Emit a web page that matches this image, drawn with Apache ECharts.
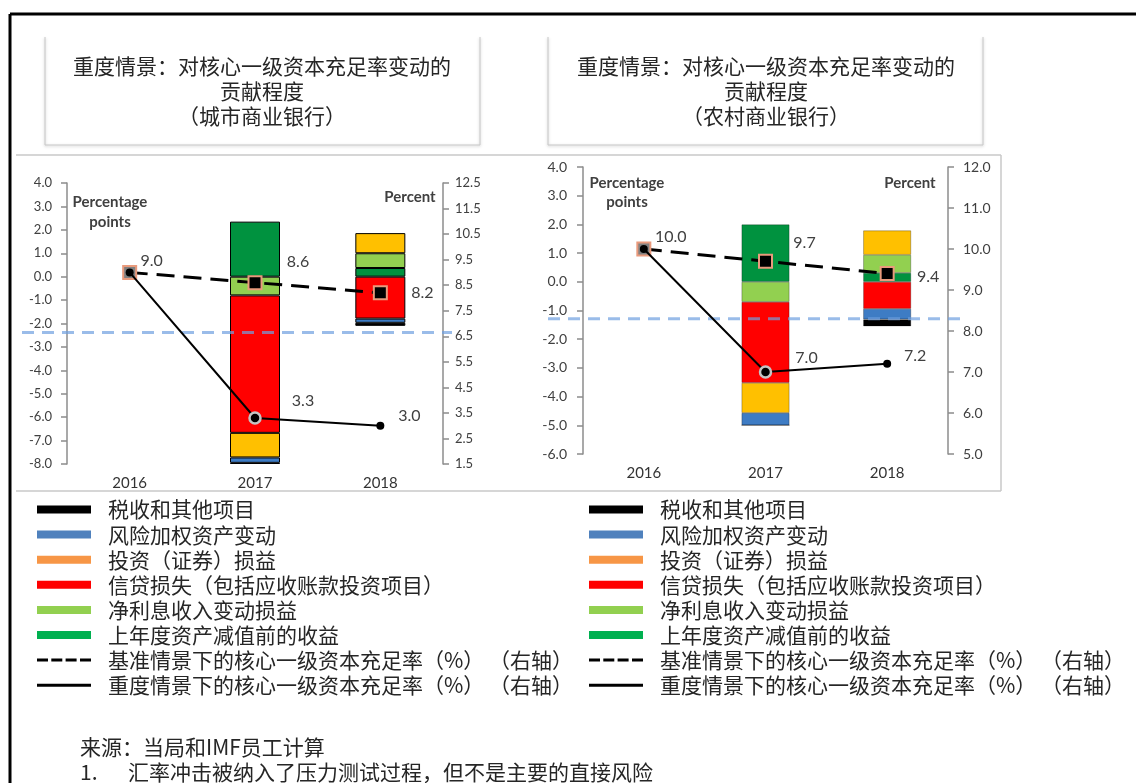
<!DOCTYPE html>
<html>
<head>
<meta charset="utf-8">
<script src="https://cdn.jsdelivr.net/npm/echarts@6/dist/echarts.min.js"></script>
<style>
  html, body { margin: 0; padding: 0; background: #fff; }
  #main { width: 1136px; height: 783px; }
</style>
</head>
<body>
<div id="main"></div>
<script>
/* 两张重度情景贡献图：城市商业银行（左）、农村商业银行（右） */
var years = ['2016', '2017', '2018'];

var seriesNames = [
    '上年度资产减值前的收益',
    '净利息收入变动损益',
    '信贷损失（包括应收账款投资项目）',
    '投资（证券）损益',
    '风险加权资产变动',
    '税收和其他项目'
];
var baseName = '基准情景下的核心一级资本充足率（%） （右轴）';
var severeName = '重度情景下的核心一级资本充足率（%） （右轴）';
// 图例顺序（从上到下）
var legendOrder = ['税收和其他项目', '风险加权资产变动', '投资（证券）损益',
    '信贷损失（包括应收账款投资项目）', '净利息收入变动损益', '上年度资产减值前的收益',
    baseName, severeName];

// 城市商业银行，百分点
var cityPreImpairment = [null, 2.35, 0.37];
var cityNetInterest = [null, -0.8, 0.63];
var cityCredit = [null, -5.87, -1.79];
var cityInvestment = [null, -1.05, 0.86];
var cityRwa = [null, -0.23, -0.18];
var cityTax = [null, -0.05, -0.13];
var cityBaseline = [9.0, 8.6, 8.2];   // 右轴，百分比
var citySevere = [9.0, 3.3, 3.0];
var cityThreshold = 6.65;

// 农村商业银行，百分点
var ruralPreImpairment = [null, 2.0, 0.31];
var ruralNetInterest = [null, -0.7, 0.63];
var ruralCredit = [null, -2.82, -0.94];
var ruralInvestment = [null, -1.05, 0.85];
var ruralRwa = [null, -0.43, -0.37];
var ruralTax = [null, 0, -0.24];
var ruralBaseline = [10.0, 9.7, 9.4];
var ruralSevere = [10.0, 7.0, 7.2];
var ruralThreshold = 8.3;

// 坐标轴范围 [min, max, interval]
var cityPpAxis = [-8, 4, 1];
var cityPctAxis = [1.5, 12.5, 1];
var ruralPpAxis = [-6, 4, 1];
var ruralPctAxis = [5, 12, 1];

var barColors = ['#00923F', '#92D050', '#FF0000', '#FFC000', '#3E7CC4', '#000000'];
var legendColors = {
    '税收和其他项目': '#000000',
    '风险加权资产变动': '#4F81BD',
    '投资（证券）损益': '#F79646',
    '信贷损失（包括应收账款投资项目）': '#FF0000',
    '净利息收入变动损益': '#92D050',
    '上年度资产减值前的收益': '#00B050'
};

var font = 'Lato, "Noto Sans", sans-serif';
var cjk = '"Noto Sans CJK SC", sans-serif';
var axisGray = '#8c8c8c';

function makeBars(groups, xi, yi, width, border) {
    return groups.map(function (vals, k) {
        return {
            type: 'bar', name: seriesNames[k], stack: 'c' + xi,
            xAxisIndex: xi, yAxisIndex: yi, barWidth: width,
            itemStyle: { color: barColors[k], borderColor: border.c, borderWidth: border.w },
            data: vals
        };
    });
}

function makeLines(base, severe, xi, yi, baseOff, sevOff) {
    var lab = function (off) {
        return off ? { show: true, position: 'inside', offset: off, color: '#404040', fontSize: 16, fontFamily: font,
            formatter: function (p) { return Number(p.value).toFixed(1); } } : { show: false };
    };
    return [{
        type: 'line', name: baseName, xAxisIndex: xi, yAxisIndex: yi, z: 5,
        symbol: 'rect', symbolSize: 13,
        lineStyle: { color: '#000', width: 3, type: [18, 9] },
        itemStyle: { color: '#000', borderColor: '#E99A7C', borderWidth: 2 },
        data: base.map(function (v, i) {
            var d = { value: v, label: lab(baseOff[i]) };
            if (i === 0) d.itemStyle = { color: '#808080' };
            return d;
        })
    }, {
        type: 'line', name: severeName, xAxisIndex: xi, yAxisIndex: yi, z: 6,
        symbol: 'circle',
        lineStyle: { color: '#000', width: 2 },
        itemStyle: { color: '#000' },
        data: severe.map(function (v, i) {
            var d = { value: v, label: lab(sevOff[i]), symbolSize: i === 1 ? 11 : 8 };
            if (i === 1) d.itemStyle = { color: '#000', borderColor: '#c4c4c4', borderWidth: 2.5 };
            return d;
        })
    }];
}

function valueAxis(range, gi, pos, size, margin) {
    return {
        type: 'value', gridIndex: gi, position: pos,
        min: range[0], max: range[1], interval: range[2],
        splitLine: { show: false },
        axisLine: { show: true, lineStyle: { color: axisGray, width: 1.5 } },
        axisTick: { show: true, length: 6, lineStyle: { color: axisGray, width: 1.5 } },
        axisLabel: { color: '#404040', fontSize: size, fontFamily: font, margin: margin,
            formatter: function (v) { return v.toFixed(1); } }
    };
}

function catAxis(gi, size) {
    return {
        type: 'category', gridIndex: gi, data: years,
        axisLine: { show: false }, axisTick: { show: false },
        axisLabel: { color: '#333', fontSize: size, fontFamily: font, margin: 12 }
    };
}

function hiddenAxes(gi, range) {
    return {
        x: { type: 'value', gridIndex: gi, min: 0, max: 1, show: false },
        y: { type: 'value', gridIndex: gi, min: range[0], max: range[1], show: false }
    };
}

var hc = hiddenAxes(2, cityPctAxis);
var hr = hiddenAxes(3, ruralPctAxis);

function thresholdSeries(v, xi, yi) {
    return {
        type: 'line', xAxisIndex: xi, yAxisIndex: yi, symbol: 'none', z: 4, silent: true,
        lineStyle: { color: '#6FA0E0', width: 3, type: [12, 8], opacity: 0.7 },
        data: [[0, v], [1, v]]
    };
}

function legendIcon(name) {
    if (name === baseName) {
        return 'path://M0,0M66,12M0,4.5h11v3h-11zM14.3,4.5h11v3h-11zM28.6,4.5h11v3h-11zM43,4.5h11v3h-11z';
    }
    if (name === severeName) {
        return 'path://M0,0M66,12M0,4.5h54v3h-54z';
    }
    return 'path://M0,0M66,12M0,2h54v8h-54z';
}

function makeLegend(left) {
    return {
        orient: 'vertical', left: left, top: 499, padding: 0,
        itemWidth: 66, itemHeight: 12, itemGap: 4.1,
        selectedMode: false,
        itemStyle: { borderWidth: 0 },
        textStyle: { fontSize: 21, fontFamily: cjk, color: '#262626', lineHeight: 21 },
        data: legendOrder.map(function (n) {
            var d = { name: n, icon: legendIcon(n) };
            if (legendColors[n]) d.itemStyle = { color: legendColors[n], borderWidth: 0 };
            return d;
        })
    };
}

function txt(x, y, s, style) {
    return { type: 'text', x: x, y: y, style: Object.assign({ text: s, textAlign: 'center', textVerticalAlign: 'middle', fill: '#262626' }, style) };
}

function ln(x1, y1, x2, y2, stroke, w) {
    return { type: 'line', shape: { x1: x1, y1: y1, x2: x2, y2: y2 }, style: { stroke: stroke, lineWidth: w } };
}

var titleStyle = { font: '21px ' + cjk, fill: '#262626' };
var unitStyle = { font: 'bold 15px ' + font, fill: '#404040' };
var noteStyle = { font: '21px ' + cjk, fill: '#262626', textVerticalAlign: 'middle' };

var graphics = [
    ln(10, 14, 1136, 14, '#000', 3),
    ln(10, 14, 10, 783, '#000', 3),
    // 标题框
    { type: 'polyline', shape: { points: [[45, 37], [45, 145], [480, 145], [480, 37]] },
      style: { stroke: '#c8c8c8', fill: null, lineWidth: 1, shadowBlur: 3, shadowColor: 'rgba(0,0,0,0.25)', shadowOffsetY: 1 } },
    { type: 'polyline', shape: { points: [[548, 37], [548, 145], [983, 145], [983, 37]] },
      style: { stroke: '#c8c8c8', fill: null, lineWidth: 1, shadowBlur: 3, shadowColor: 'rgba(0,0,0,0.25)', shadowOffsetY: 1 } },
    txt(262, 66, '重度情景：对核心一级资本充足率变动的', titleStyle),
    txt(262, 91, '贡献程度', titleStyle),
    txt(262, 116, '（城市商业银行）', titleStyle),
    txt(766, 66, '重度情景：对核心一级资本充足率变动的', titleStyle),
    txt(766, 91, '贡献程度', titleStyle),
    txt(766, 116, '（农村商业银行）', titleStyle),
    // 图区框
    ln(16, 155, 1001, 155, '#c9c9c9', 1.5),
    ln(1001, 155, 1001, 491, '#c9c9c9', 1.5),
    ln(16, 491, 1001, 491, '#c9c9c9', 1.5),
    // 单位
    txt(110, 202, 'Percentage', unitStyle),
    txt(110, 222, 'points', unitStyle),
    txt(410, 197, 'Percent', unitStyle),
    txt(627, 183, 'Percentage', unitStyle),
    txt(627, 202, 'points', unitStyle),
    txt(910, 183, 'Percent', unitStyle),
    // 注释
    { type: 'text', x: 80, y: 747, style: Object.assign({ text: '来源：当局和IMF员工计算' }, noteStyle) },
    { type: 'text', x: 80, y: 772, style: Object.assign({ text: '1.' }, noteStyle) },
    { type: 'text', x: 128, y: 772, style: Object.assign({ text: '汇率冲击被纳入了压力测试过程，但不是主要的直接风险' }, noteStyle) }
];

var series = []
    .concat(makeBars([cityPreImpairment, cityNetInterest, cityCredit, cityInvestment, cityRwa, cityTax], 0, 0, 50, { c: '#000', w: 1 }))
    .concat(makeBars([ruralPreImpairment, ruralNetInterest, ruralCredit, ruralInvestment, ruralRwa, ruralTax], 1, 2, 48, { c: 'rgba(0,0,0,0.35)', w: 0.8 }))
    .concat([thresholdSeries(cityThreshold, 2, 4), thresholdSeries(ruralThreshold, 3, 5)])
    .concat(makeLines(cityBaseline, citySevere, 0, 1,
        [[22, -12], [43, -21], [42, 0]], [null, [48, -17], [29, -10]]))
    .concat(makeLines(ruralBaseline, ruralSevere, 1, 3,
        [[27, -12], [39, -18], [41, 3]], [null, [41, -14], [28, -8]]));

var option = {
    animation: false,
    backgroundColor: '#fff',
    grid: [
        { left: 67, top: 183, width: 376, height: 281 },
        { left: 583, top: 167, width: 365, height: 287 },
        { left: 22, top: 183, width: 430, height: 281 },
        { left: 548, top: 167, width: 417, height: 287 }
    ],
    xAxis: [catAxis(0, 15), catAxis(1, 15), hc.x, hr.x],
    yAxis: [
        valueAxis(cityPpAxis, 0, 'left', 13, 15),
        valueAxis(cityPctAxis, 0, 'right', 13, 12),
        valueAxis(ruralPpAxis, 1, 'left', 14, 16),
        valueAxis(ruralPctAxis, 1, 'right', 14, 15),
        hc.y, hr.y
    ],
    legend: [makeLegend(37), makeLegend(589)],
    graphic: graphics,
    series: series
};

var chart = echarts.init(document.getElementById('main'));
chart.setOption(option);
</script>
</body>
</html>
